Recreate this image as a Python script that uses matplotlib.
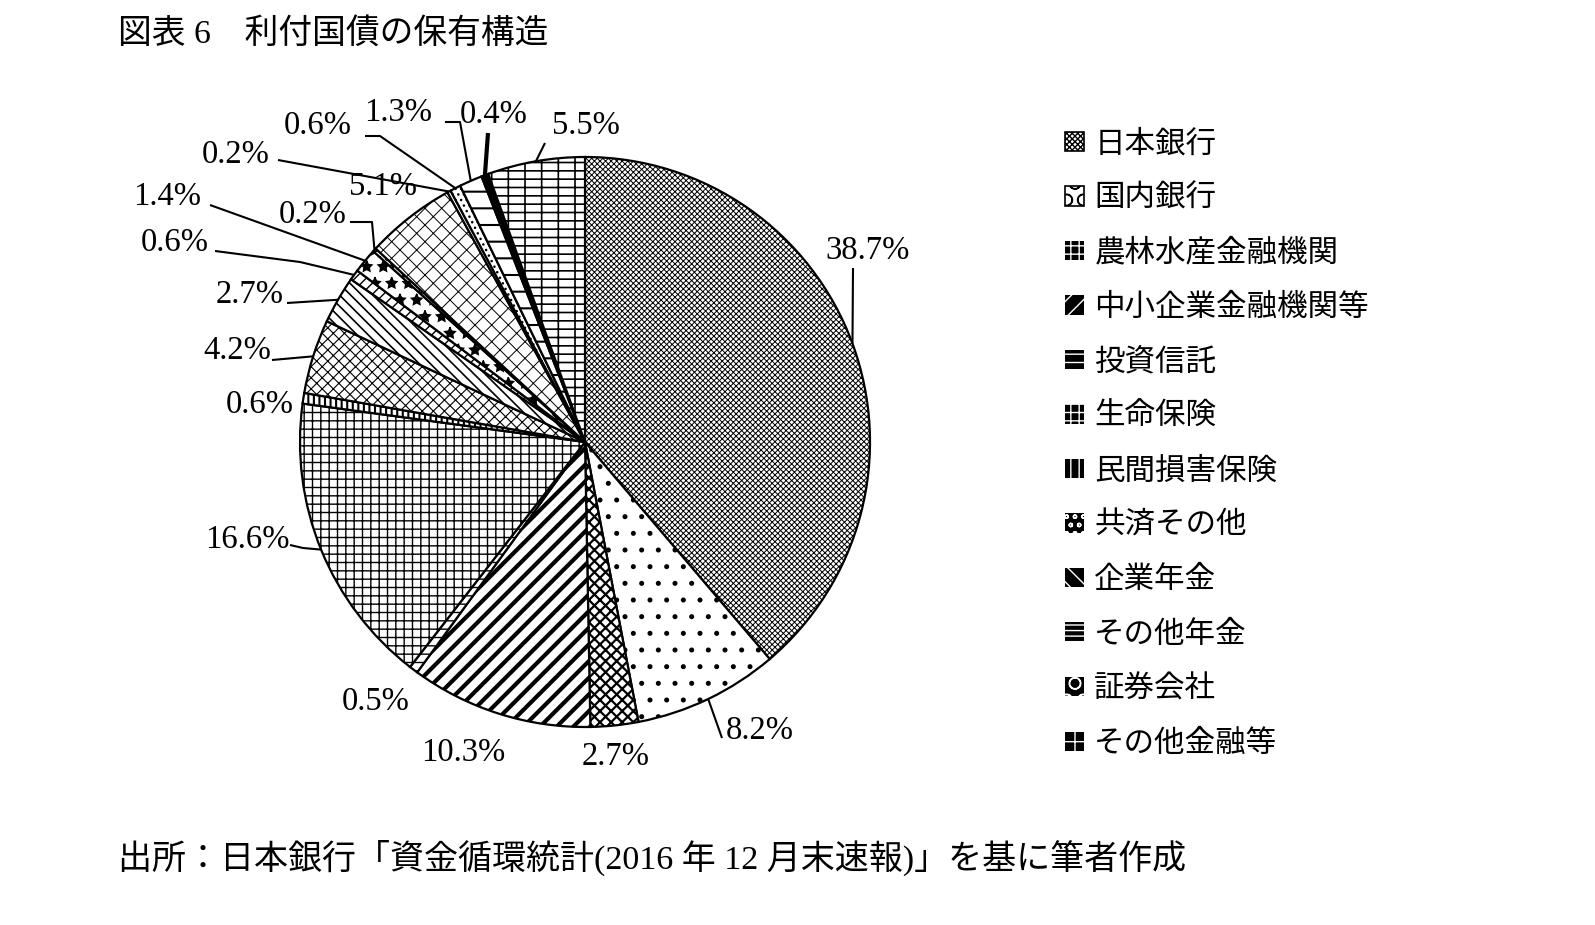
import matplotlib
matplotlib.use("Agg")
import matplotlib.pyplot as plt
from matplotlib.patches import Patch
import numpy as np

# ---------------- data ----------------
legend_labels = ["日本銀行", "国内銀行", "農林水産金融機関", "中小企業金融機関等", "投資信託",
                 "生命保険", "民間損害保険", "共済その他", "企業年金", "その他年金",
                 "証券会社", "その他金融等"]
# shares (%) clockwise from 12 o'clock; the last 6 slices are not named in the legend
shares = [38.7, 8.2, 2.7, 10.3, 0.5, 16.6, 0.6, 4.2, 2.7, 0.6, 1.4, 0.2,
          5.1, 0.2, 0.6, 1.3, 0.4, 5.5]
share_labels = [f"{v:.1f}%" for v in shares]

title = "図表 6\u3000利付国債の保有構造"
source = "出所：日本銀行「資金循環統計(2016 年 12 月末速報)」を基に筆者作成"

# ---------------- styles ----------------
W, H = 1595, 925
CX, CY, R = 585, 442, 285          # pie centre / radius (pixels, y down)

faces = ["white"] * 16 + ["black", "white"]
hatches = ["xxxxxx", ".", "xxx", "//", "--", "++", "|||", "xxx", "\\\\\\", "///",
           "*", "oo", "xx", None, "...", "-", None, "-+"]
hatch_lw = [0.7, 1.2, 1.6, 3.0, 1.0, 1.0, 1.5, 0.8, 1.2, 1.0, 1.0, 1.0,
            0.7, 1.0, 1.0, 1.5, 1.0, 1.2]

# legend swatch styles (face, hatch colour, hatch)
leg_face = ["white", "white"] + ["black"] * 10
leg_edge = ["black", "black"] + ["white"] * 10
leg_hatch = ["xxxxxx", "O", "++", "//", "--", "++", "||", "oo", "\\\\", "---", "O", "-|"]

# text positions (pixels, y down) and leader-line waypoints near the text
label_pos = [(868, 251), (760, 731), (616, 757), (463, 753), (376, 702), (247, 540),
             (260, 405), (237, 351), (250, 295), (175, 243), (167, 197), (313, 215),
             (383, 187), (236, 155), (318, 126), (398, 113), (494, 115), (586, 126)]
leaders = [[(853, 268)], [(722, 738)], None, None, None, [(290, 545), (303, 548)],
           None, [(272, 360)], [(287, 303)], [(215, 251), (300, 262)], [(210, 205)],
           [(350, 222), (372, 222)], None, [(278, 160)], [(365, 136), (380, 136)],
           [(445, 122), (460, 122)], [(488, 133)], [(545, 143)]]
leader_w = [1.5] * 16 + [3.0, 1.5]

SERIF_JP = ['Liberation Serif', 'Noto Sans CJK JP']
plt.rcParams['font.family'] = SERIF_JP
plt.rcParams['hatch.linewidth'] = 1.0

fig = plt.figure(figsize=(W / 100, H / 100), dpi=100)
ax = fig.add_axes([0, 0, 1, 1])

def P(x, y):
    return (x, H - y)

wedges, _ = ax.pie(shares, startangle=90, counterclock=False,
                   center=P(CX, CY), radius=R, colors=faces,
                   wedgeprops=dict(edgecolor="black", linewidth=1.6))
for w, h, lw in zip(wedges, hatches, hatch_lw):
    if h:
        w.set_hatch(h)
        if hasattr(w, "set_hatch_linewidth"):
            w.set_hatch_linewidth(lw)

# percentage labels with leader lines
for w, txt, pos, lead, llw in zip(wedges, share_labels, label_pos, leaders, leader_w):
    ax.text(*P(*pos), txt, ha="center", va="center", fontsize=23.5, family=SERIF_JP)
    if lead:
        mid = np.deg2rad((w.theta1 + w.theta2) / 2)
        arc_pt = (CX + R * np.cos(mid), H - CY + R * np.sin(mid))
        pts = [P(*p) for p in lead] + [arc_pt]
        xs, ys = zip(*pts)
        ax.plot(xs, ys, color="black", linewidth=llw, solid_capstyle="butt")

# legend (first 12 categories)
handles = []
for fc, ec, hh in zip(leg_face, leg_edge, leg_hatch):
    p = Patch(facecolor=fc, edgecolor=ec, hatch=hh, linewidth=1.2 if ec == "black" else 0)
    if hasattr(p, "set_hatch_linewidth"):
        p.set_hatch_linewidth(1.0)
    handles.append(p)

ax.legend(handles, legend_labels, loc="upper left",
          bbox_to_anchor=(1053 / W, 1 - 116 / H), frameon=False,
          prop=dict(family=['Noto Sans CJK JP'], size=22),
          handlelength=0.6, handleheight=0.6, handletextpad=0.35,
          labelspacing=0.77, borderaxespad=0)

ax.text(*P(118, 34), title, ha="left", va="center", fontsize=24.3, family=SERIF_JP)
ax.text(*P(118, 858), source, ha="left", va="center", fontsize=24.5, family=SERIF_JP)

ax.set_xlim(0, W)
ax.set_ylim(0, H)
ax.set_aspect("equal")
ax.axis("off")
fig.savefig("out.png", dpi=100, facecolor="white")
